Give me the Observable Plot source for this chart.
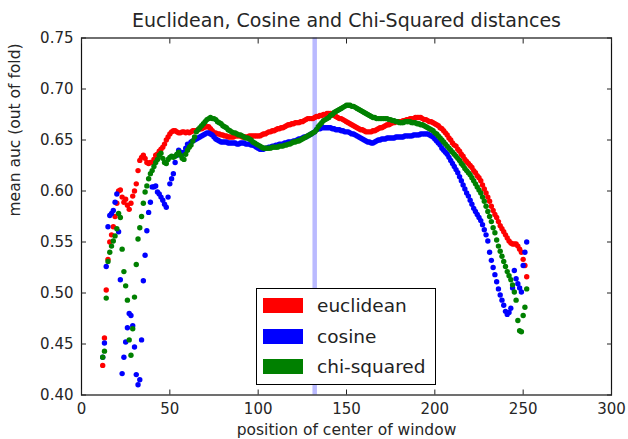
<!DOCTYPE html>
<html>
<head>
<meta charset="utf-8">
<script src="https://cdn.jsdelivr.net/npm/d3@7"></script>
<script src="https://cdn.jsdelivr.net/npm/@observablehq/plot@0.6"></script>
<style>
html, body { margin: 0; padding: 0; background: #fff; }
#chart { position: relative; width: 628px; height: 439px; font-family: "DejaVu Sans", sans-serif; }
#legend { position: absolute; left: 256px; top: 288px; width: 178px; height: 95px; border: 1.3px solid #000; background: #fff; }
.patch { position: absolute; left: 6px; width: 40px; height: 15px; }
.lab { position: absolute; left: 60px; font-size: 18.5px; color: #222; line-height: 20px; white-space: nowrap; }
</style>
</head>
<body>
<div id="chart"><div id="legend"></div></div>
<script>
// ---- data ----
const titleText = "Euclidean, Cosine and Chi-Squared distances";
const xLabel = "position of center of window";
const yLabel = "mean auc (out of fold)";
const xTicks = [0, 50, 100, 150, 200, 250, 300];
const yTicks = [0.40, 0.45, 0.50, 0.55, 0.60, 0.65, 0.70, 0.75];
const seriesNames = ["euclidean", "cosine", "chi-squared"];
const seriesColors = ["#ff0000", "#0000ff", "#008000"];
const markerPosition = 132;
// window centers 12..252
const windowCenters = d3.range(12, 253);

const euclidean = [
0.429,0.456,0.503,0.533,0.550,0.557,0.565,0.575,0.588,0.600,
0.601,0.594,0.589,0.592,0.586,0.582,0.588,0.595,0.600,0.607,
0.620,0.630,0.633,0.635,0.632,0.628,0.627,0.628,0.628,0.631,
0.635,0.636,0.639,0.641,0.643,0.646,0.650,0.653,0.656,0.658,
0.659,0.659,0.658,0.657,0.657,0.658,0.658,0.657,0.658,0.657,
0.658,0.659,0.659,0.659,0.660,0.661,0.661,0.662,0.663,0.663,
0.663,0.661,0.659,0.657,0.657,0.656,0.656,0.655,0.655,0.654,
0.654,0.653,0.653,0.653,0.653,0.654,0.654,0.654,0.654,0.653,
0.653,0.653,0.653,0.654,0.654,0.654,0.654,0.654,0.654,0.654,
0.655,0.656,0.656,0.657,0.658,0.658,0.659,0.659,0.660,0.661,
0.661,0.662,0.662,0.663,0.664,0.665,0.665,0.666,0.666,0.667,
0.667,0.667,0.668,0.668,0.669,0.670,0.671,0.671,0.671,0.671,
0.672,0.673,0.673,0.674,0.674,0.675,0.675,0.676,0.676,0.676,
0.675,0.674,0.673,0.672,0.671,0.671,0.670,0.669,0.668,0.667,
0.666,0.665,0.664,0.663,0.662,0.661,0.660,0.660,0.659,0.658,
0.658,0.658,0.658,0.659,0.659,0.660,0.661,0.662,0.662,0.663,
0.664,0.665,0.665,0.666,0.667,0.667,0.668,0.668,0.668,0.668,
0.669,0.669,0.670,0.670,0.671,0.671,0.671,0.672,0.672,0.672,
0.672,0.671,0.670,0.670,0.669,0.668,0.668,0.667,0.666,0.665,
0.664,0.662,0.661,0.659,0.657,0.655,0.652,0.650,0.647,0.645,
0.644,0.641,0.639,0.636,0.634,0.631,0.629,0.627,0.625,0.623,
0.620,0.618,0.615,0.613,0.610,0.606,0.602,0.598,0.594,0.590,
0.585,0.581,0.577,0.574,0.570,0.566,0.563,0.560,0.557,0.554,
0.551,0.549,0.548,0.548,0.548,0.546,0.543,0.540,0.533,0.527,
0.516
];
const cosine = [
0.437,0.451,0.526,0.565,0.576,0.578,0.581,0.589,0.597,0.560,
0.513,0.421,0.437,0.452,0.466,0.480,0.478,0.468,0.447,0.420,
0.410,0.415,0.454,0.512,0.537,0.561,0.579,0.589,0.604,0.604,
0.605,0.599,0.597,0.594,0.591,0.587,0.584,0.594,0.607,0.612,
0.617,0.628,0.635,0.640,0.638,0.636,0.638,0.642,0.646,0.646,
0.648,0.649,0.650,0.651,0.652,0.653,0.654,0.655,0.656,0.657,
0.657,0.656,0.655,0.653,0.651,0.650,0.649,0.648,0.648,0.648,
0.648,0.647,0.647,0.647,0.647,0.647,0.646,0.646,0.647,0.647,
0.647,0.646,0.646,0.646,0.645,0.645,0.644,0.643,0.642,0.641,
0.641,0.641,0.642,0.642,0.643,0.643,0.644,0.644,0.645,0.645,
0.646,0.646,0.646,0.647,0.647,0.648,0.648,0.648,0.649,0.649,
0.650,0.651,0.651,0.652,0.653,0.653,0.654,0.655,0.656,0.657,
0.658,0.660,0.661,0.661,0.662,0.662,0.662,0.662,0.662,0.662,
0.661,0.661,0.660,0.660,0.660,0.659,0.659,0.658,0.658,0.658,
0.657,0.656,0.656,0.655,0.654,0.653,0.652,0.651,0.650,0.649,
0.648,0.648,0.647,0.647,0.648,0.649,0.650,0.650,0.651,0.651,
0.651,0.652,0.652,0.652,0.652,0.652,0.653,0.653,0.653,0.653,
0.653,0.654,0.654,0.654,0.654,0.654,0.655,0.655,0.655,0.655,
0.656,0.656,0.656,0.656,0.656,0.655,0.654,0.653,0.651,0.649,
0.647,0.645,0.642,0.640,0.638,0.636,0.633,0.630,0.627,0.624,
0.621,0.618,0.614,0.610,0.606,0.602,0.598,0.595,0.591,0.587,
0.583,0.580,0.577,0.574,0.571,0.567,0.562,0.557,0.551,0.540,
0.532,0.525,0.518,0.511,0.504,0.498,0.493,0.488,0.482,0.479,
0.481,0.485,0.505,0.522,0.514,0.509,0.505,0.501,0.527,0.540,
0.550
];
const chiSquared = [
0.437,0.443,0.495,0.531,0.540,0.546,0.551,0.556,0.563,0.578,
0.574,0.543,0.521,0.507,0.493,0.454,0.439,0.465,0.496,0.528,
0.553,0.564,0.575,0.588,0.599,0.605,0.612,0.617,0.620,0.624,
0.628,0.631,0.635,0.637,0.632,0.628,0.627,0.631,0.633,0.634,
0.633,0.634,0.636,0.638,0.635,0.632,0.631,0.636,0.640,0.643,
0.645,0.649,0.653,0.658,0.660,0.662,0.664,0.666,0.668,0.670,
0.671,0.672,0.671,0.671,0.670,0.668,0.667,0.666,0.664,0.663,
0.662,0.660,0.659,0.658,0.657,0.657,0.656,0.655,0.655,0.654,
0.653,0.652,0.652,0.651,0.650,0.648,0.647,0.646,0.645,0.644,
0.643,0.642,0.642,0.642,0.642,0.642,0.643,0.643,0.643,0.643,
0.644,0.644,0.644,0.645,0.645,0.646,0.646,0.647,0.648,0.648,
0.649,0.649,0.650,0.651,0.652,0.653,0.654,0.655,0.656,0.657,
0.658,0.660,0.663,0.665,0.667,0.669,0.670,0.671,0.672,0.674,
0.675,0.677,0.678,0.679,0.680,0.681,0.682,0.683,0.684,0.684,
0.684,0.683,0.683,0.682,0.681,0.680,0.679,0.678,0.677,0.676,
0.675,0.674,0.673,0.672,0.672,0.671,0.671,0.671,0.671,0.671,
0.671,0.671,0.670,0.670,0.669,0.669,0.668,0.668,0.667,0.667,
0.667,0.668,0.668,0.668,0.668,0.667,0.667,0.667,0.666,0.666,
0.665,0.665,0.664,0.663,0.662,0.661,0.660,0.659,0.657,0.656,
0.654,0.652,0.650,0.648,0.646,0.644,0.642,0.640,0.638,0.636,
0.634,0.632,0.630,0.627,0.625,0.622,0.620,0.618,0.616,0.613,
0.610,0.607,0.604,0.601,0.598,0.594,0.590,0.585,0.580,0.575,
0.570,0.564,0.559,0.552,0.546,0.541,0.536,0.531,0.526,0.521,
0.517,0.513,0.508,0.501,0.493,0.473,0.463,0.462,0.478,0.486,
0.504
];
const seriesValues = [euclidean, cosine, chiSquared];

// ---- build table ----
const rows = [];
seriesNames.forEach((name, s) => {
  seriesValues[s].forEach((v, i) => rows.push({series: name, pos: windowCenters[i], auc: v}));
});

const textColor = "#262626";
const tickOnly = {tickFormat: null, fill: "none", label: null, stroke: "#222"};
const chart = Plot.plot({
  width: 628,
  height: 439,
  marginLeft: 81,
  marginRight: 17,
  marginTop: 37.5,
  marginBottom: 44.5,
  style: {fontFamily: "'DejaVu Sans', sans-serif", fontSize: "15px", color: textColor, background: "#fff"},
  x: {domain: [0, 300]},
  y: {domain: [0.40, 0.75]},
  color: {domain: seriesNames, range: seriesColors},
  marks: [
    Plot.ruleX([markerPosition], {stroke: "#0000ff", strokeOpacity: 0.27, strokeWidth: 4.5}),
    Plot.dot(rows, {x: "pos", y: "auc", fill: "series", r: 2.7, stroke: null}),
    Plot.frame({stroke: "#111", strokeWidth: 1.2}),
    Plot.axisX({ticks: xTicks, tickSize: 0, tickPadding: 8, tickFormat: d => String(d), label: null, fontSize: 15}),
    Plot.axisX({ticks: xTicks, anchor: "bottom", tickSize: -5, ...tickOnly}),
    Plot.axisX({ticks: xTicks, anchor: "top", tickSize: -5, ...tickOnly}),
    Plot.axisY({ticks: yTicks, tickSize: 0, tickPadding: 8, tickFormat: d3.format(".2f"), label: null, fontSize: 15}),
    Plot.axisY({ticks: yTicks, anchor: "left", tickSize: -5, ...tickOnly}),
    Plot.axisY({ticks: yTicks, anchor: "right", tickSize: -5, ...tickOnly}),
    Plot.text([titleText], {frameAnchor: "top", dy: -17.5, lineAnchor: "middle", fontSize: 19, fill: textColor}),
    Plot.text([xLabel], {frameAnchor: "bottom", dy: 35.5, lineAnchor: "middle", fontSize: 15.5, fill: textColor}),
    Plot.text([yLabel], {frameAnchor: "left", dx: -66, rotate: -90, lineAnchor: "middle", fontSize: 15.5, fill: textColor})
  ]
});
const host = document.getElementById("chart");
host.insertBefore(chart, host.firstChild);

// legend
const legend = document.getElementById("legend");
const rowTops = [9, 40, 70];
seriesNames.forEach((name, i) => {
  const p = document.createElement("div");
  p.className = "patch";
  p.style.top = rowTops[i] + "px";
  p.style.background = seriesColors[i];
  legend.appendChild(p);
  const t = document.createElement("div");
  t.className = "lab";
  t.style.top = (rowTops[i] - 2.5) + "px";
  t.textContent = name;
  legend.appendChild(t);
});
</script>
</body>
</html>
